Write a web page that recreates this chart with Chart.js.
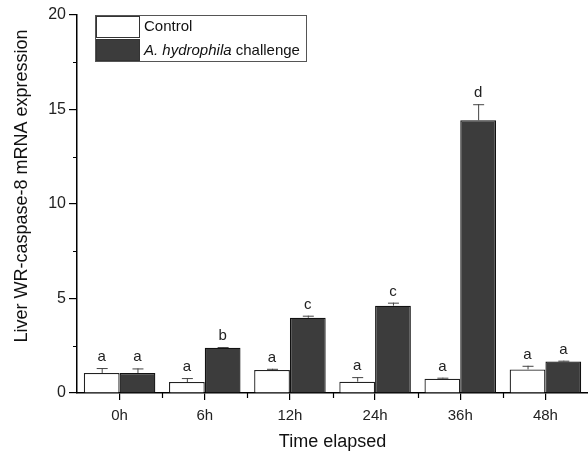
<!DOCTYPE html>
<html><head><meta charset="utf-8">
<script src="https://cdn.jsdelivr.net/npm/chart.js@4.4.1/dist/chart.umd.min.js"></script>
<style>html,body{margin:0;padding:0;background:#fff}</style>
</head><body>
<canvas id="c" width="588" height="460"></canvas>
<script>
const timePoints = ['0h', '6h', '12h', '24h', '36h', '48h'];
const controlMean = [1.06, 0.58, 1.22, 0.60, 0.76, 1.25];
const controlErr = [0.26, 0.21, 0.06, 0.24, 0.05, 0.19];
const challengeMean = [1.06, 2.40, 3.98, 4.62, 14.43, 1.67];
const challengeErr = [0.24, 0.03, 0.11, 0.16, 0.85, 0.04];
const controlLetters = ['a', 'a', 'a', 'a', 'a', 'a'];
const challengeLetters = ['a', 'b', 'c', 'c', 'd', 'a'];
const yMax = 20;
const yStep = 5;

const FONT = 'Liberation Sans, Arial, sans-serif';
const errs = [controlErr, challengeErr];
const letters = [controlLetters, challengeLetters];

// error bars, letters, minor ticks, legend, y title
const extras = {
  id: 'extras',
  afterDatasetsDraw(chart) {
    const ctx = chart.ctx;
    const y = chart.scales.y;
    const area = chart.chartArea;
    ctx.save();
    chart.data.datasets.forEach((ds, di) => {
      chart.getDatasetMeta(di).data.forEach((bar, i) => {
        const top = y.getPixelForValue(ds.data[i] + errs[di][i]);
        ctx.strokeStyle = '#444';
        ctx.lineWidth = 1;
        ctx.beginPath();
        ctx.moveTo(bar.x + 0.5, bar.y);
        ctx.lineTo(bar.x + 0.5, top);
        ctx.moveTo(bar.x - 5, top + 0.5);
        ctx.lineTo(bar.x + 6, top + 0.5);
        ctx.stroke();
        ctx.fillStyle = '#222';
        ctx.font = '15px ' + FONT;
        ctx.textAlign = 'center';
        ctx.textBaseline = 'alphabetic';
        ctx.fillText(letters[di][i], bar.x, top - 7);
      });
    });

    // minor ticks
    ctx.strokeStyle = '#000';
    ctx.lineWidth = 1.2;
    ctx.beginPath();
    for (let v = yStep / 2; v < yMax; v += yStep) {
      const py = Math.round(y.getPixelForValue(v)) + 0.5;
      ctx.moveTo(area.left - 4, py);
      ctx.lineTo(area.left, py);
    }
    const w = (area.right - area.left) / timePoints.length;
    for (let i = 1; i < timePoints.length; i++) {
      const px = Math.round(area.left + i * w) + 0.5;
      ctx.moveTo(px, area.bottom);
      ctx.lineTo(px, area.bottom + 5);
    }
    ctx.stroke();

    // legend
    ctx.fillStyle = '#fff';
    ctx.fillRect(95, 15, 212, 47);
    ctx.strokeStyle = '#555';
    ctx.lineWidth = 1;
    ctx.strokeRect(95.5, 15.5, 211, 46);
    ctx.strokeStyle = '#333';
    ctx.fillStyle = '#fff';
    ctx.fillRect(96.5, 16.5, 43, 21);
    ctx.strokeRect(96.5, 16.5, 43, 21);
    ctx.fillStyle = '#3c3c3c';
    ctx.fillRect(96.5, 39.5, 43, 21);
    ctx.strokeRect(96.5, 39.5, 43, 21);
    ctx.fillStyle = '#111';
    ctx.textAlign = 'left';
    ctx.textBaseline = 'middle';
    ctx.font = '15px ' + FONT;
    ctx.fillText('Control', 144, 27);
    ctx.font = 'italic 15px ' + FONT;
    const it = 'A. hydrophila';
    ctx.fillText(it, 144, 51);
    const iw = ctx.measureText(it).width;
    ctx.font = '15px ' + FONT;
    ctx.fillText(' challenge', 144 + iw, 51);

    // y title
    ctx.translate(22, 186);
    ctx.rotate(-Math.PI / 2);
    ctx.textAlign = 'center';
    ctx.font = '18px ' + FONT;
    ctx.fillText('Liver WR-caspase-8 mRNA expression', 0, 0);
    ctx.restore();
  }
};

new Chart(document.getElementById('c'), {
  type: 'bar',
  data: {
    labels: timePoints,
    datasets: [
      {
        label: 'Control',
        data: controlMean,
        backgroundColor: '#ffffff',
        borderColor: '#222',
        borderWidth: 1.3
      },
      {
        label: 'A. hydrophila challenge',
        data: challengeMean,
        backgroundColor: '#3c3c3c',
        borderColor: '#111',
        borderWidth: 1.3
      }
    ]
  },
  options: {
    responsive: false,
    animation: false,
    layout: { padding: { top: 15, right: 0, left: 0, bottom: 0 } },
    datasets: { bar: { categoryPercentage: 0.84, barPercentage: 1 } },
    plugins: { legend: { display: false }, tooltip: { enabled: false } },
    scales: {
      x: {
        afterFit: s => { s.height = 67; },
        grid: { offset: false, drawOnChartArea: false, tickLength: 7, color: '#000', lineWidth: 1.2 },
        border: { color: '#000', width: 1.5 },
        ticks: { color: '#222', font: { size: 15, family: FONT }, padding: 7 },
        title: { display: true, text: 'Time elapsed', color: '#111', font: { size: 18, family: FONT }, padding: { top: 4, bottom: 7 } }
      },
      y: {
        min: 0,
        max: yMax,
        afterFit: s => { s.width = 77; },
        grid: { drawOnChartArea: false, tickLength: 8, color: '#000', lineWidth: 1.2 },
        border: { color: '#000', width: 1.5 },
        ticks: { stepSize: yStep, color: '#222', font: { size: 16, family: FONT }, padding: 3 }
      }
    }
  },
  plugins: [extras]
});
</script>
</body></html>
